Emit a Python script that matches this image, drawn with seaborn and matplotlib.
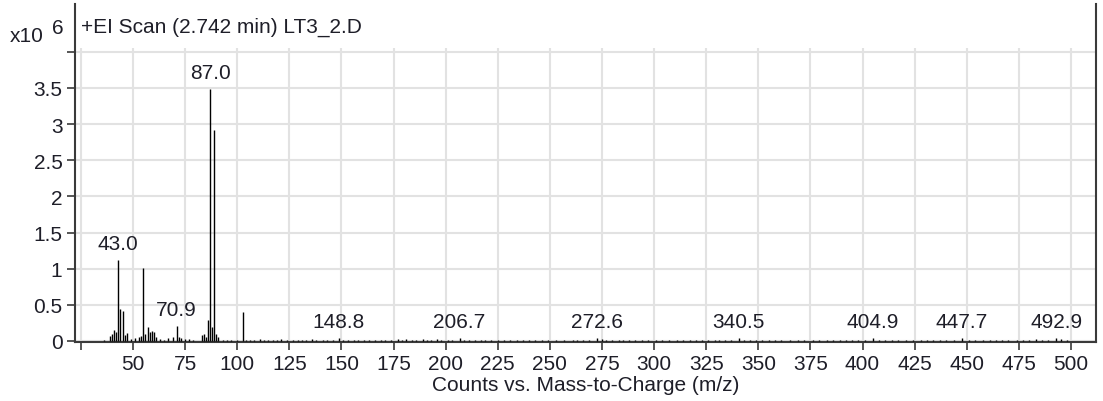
import numpy as np
import pandas as pd
import seaborn as sns
import matplotlib.pyplot as plt

# main ions (m/z, counts in units of 1e6)
peak_mz = [36, 39, 40, 41, 42, 43, 44, 45, 46, 47,
           49, 51, 53, 54, 55, 56, 57, 58, 59, 60,
           61, 63, 65, 67, 69, 70.9, 72, 73, 75, 77,
           79, 83, 84, 85, 86, 87, 88, 89, 90, 91,
           93, 95, 97, 100, 103, 104]
peak_h = [0.02, 0.07, 0.09, 0.15, 0.12, 1.12, 0.44, 0.42, 0.08, 0.11,
          0.03, 0.04, 0.05, 0.07, 1.01, 0.10, 0.20, 0.12, 0.14, 0.12,
          0.05, 0.03, 0.02, 0.04, 0.06, 0.21, 0.05, 0.04, 0.03, 0.03,
          0.02, 0.08, 0.10, 0.06, 0.29, 3.48, 0.19, 2.92, 0.10, 0.05,
          0.02, 0.02, 0.02, 0.02, 0.40, 0.02]

# small ions along the baseline
noise_mz = [106, 108, 111, 113, 115, 117, 119, 121, 124, 127,
            129, 131, 133, 136, 138, 141, 143, 146, 148.8, 151,
            153, 156, 158, 161, 163, 166, 169, 171, 174, 177,
            179, 181, 184, 186, 189, 191, 193, 196, 198, 201,
            203, 206.7, 209, 211, 214, 217, 219, 222, 225, 228,
            231, 234, 237, 240, 243, 246, 249, 253, 257, 261,
            263, 266, 269, 272.6, 275, 277, 280, 283, 285, 288,
            291, 294, 297, 301, 304, 307, 311, 314, 317, 320,
            323, 326, 329, 331, 334, 337, 340.5, 343, 346, 349,
            352, 355, 358, 361, 365, 369, 372, 376, 379, 383,
            386, 389, 392, 395, 398, 401, 404.9, 408, 411, 414,
            417, 421, 424, 428, 431, 434, 437, 440, 444, 447.7,
            451, 454, 458, 461, 464, 467, 470, 474, 477, 480,
            483, 486, 489, 492.9, 495, 498]
noise_h = [0.02, 0.01, 0.03, 0.01, 0.02, 0.01, 0.02, 0.03, 0.01, 0.02,
           0.01, 0.02, 0.01, 0.03, 0.02, 0.01, 0.02, 0.02, 0.04, 0.01,
           0.02, 0.01, 0.02, 0.01, 0.02, 0.01, 0.02, 0.01, 0.01, 0.03,
           0.02, 0.03, 0.01, 0.02, 0.03, 0.02, 0.01, 0.03, 0.02, 0.01,
           0.02, 0.04, 0.02, 0.01, 0.02, 0.01, 0.02, 0.01, 0.02, 0.01,
           0.02, 0.01, 0.02, 0.01, 0.01, 0.02, 0.01, 0.01, 0.01, 0.02,
           0.01, 0.02, 0.02, 0.04, 0.03, 0.02, 0.02, 0.01, 0.02, 0.01,
           0.02, 0.01, 0.02, 0.01, 0.01, 0.02, 0.01, 0.02, 0.01, 0.02,
           0.01, 0.02, 0.01, 0.02, 0.01, 0.02, 0.04, 0.02, 0.01, 0.02,
           0.01, 0.02, 0.01, 0.01, 0.02, 0.01, 0.01, 0.02, 0.01, 0.01,
           0.02, 0.01, 0.02, 0.01, 0.02, 0.01, 0.04, 0.02, 0.01, 0.02,
           0.01, 0.02, 0.01, 0.01, 0.02, 0.01, 0.02, 0.01, 0.01, 0.04,
           0.01, 0.02, 0.01, 0.02, 0.01, 0.01, 0.02, 0.01, 0.02, 0.02,
           0.03, 0.02, 0.02, 0.04, 0.03, 0.01]

labels = [43.0, 87.0, 70.9, 148.8, 206.7, 272.6, 340.5, 404.9, 447.7, 492.9]

x_ticks = list(range(25, 501, 25))
y_ticks = [0, 0.5, 1, 1.5, 2, 2.5, 3, 3.5, 4]
y_ticklabels = ['0', '0.5', '1', '1.5', '2', '2.5', '3', '3.5', '']

df = pd.DataFrame({'mz': peak_mz + noise_mz, 'counts': peak_h + noise_h})

sns.set_style('white')
plt.rcParams['font.family'] = ['Liberation Sans', 'DejaVu Sans']
txt = '#1e1e28'
fs = 15

fig = plt.figure(figsize=(11.03, 4.02), dpi=100)
ax = fig.add_axes([75 / 1103, 59 / 402, 1021 / 1103, 338 / 402])

# grid stops at the 4.0 line
grid_c = '#e2e2e2'
ax.vlines(x_ticks, 0, 4.05, color=grid_c, lw=1.5, zorder=0)
ax.hlines(y_ticks, 22, 512, color=grid_c, lw=1.5, zorder=0)

# spectrum sticks
ax.vlines(df['mz'], 0, df['counts'], color='black', lw=1.0, zorder=3)

for m in labels:
    h = df.loc[(df['mz'] - m).abs().idxmin(), 'counts']
    ax.annotate(f'{m:.1f}', xy=(m, h), xytext=(0, 5), textcoords='offset points',
                ha='center', va='bottom', fontsize=fs, color=txt, zorder=4)

ax.set_xlim(22.2, 512)
ax.set_ylim(-0.014, 4.66)
ax.set_xticks(x_ticks)
ax.set_xticklabels([''] + [str(v) for v in x_ticks[1:]])
ax.set_yticks(y_ticks)
ax.set_yticklabels(y_ticklabels)
ax.tick_params(axis='both', direction='out', length=6, width=1.2, colors='#3a3a3a',
               labelcolor=txt, labelsize=fs, pad=3)
ax.tick_params(axis='x', bottom=True)
ax.tick_params(axis='y', left=True)

for side in ['left', 'right', 'bottom']:
    ax.spines[side].set_color('#3a3a3a')
    ax.spines[side].set_linewidth(1.5)
ax.spines['top'].set_visible(False)

ax.set_xlabel('Counts vs. Mass-to-Charge (m/z)', fontsize=fs, color=txt, labelpad=1)
ax.set_ylabel('')

fig.text(81 / 1103, 1 - 27 / 402, '+EI Scan (2.742 min) LT3_2.D', fontsize=fs,
         color=txt, ha='left', va='center')
fig.text(10 / 1103, 1 - 36 / 402, 'x10', fontsize=fs, color=txt, ha='left', va='center')
fig.text(52 / 1103, 1 - 29 / 402, '6', fontsize=fs, color=txt, ha='left', va='center')

fig.savefig('out.png', dpi=100)
